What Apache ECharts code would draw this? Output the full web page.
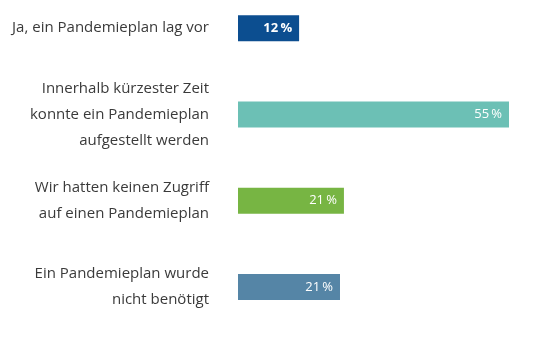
<!DOCTYPE html>
<html><head><meta charset="utf-8">
<script src="https://cdn.jsdelivr.net/npm/echarts@6/dist/echarts.min.js"></script>
<style>html,body{margin:0;padding:0;background:#fff}#c{width:553px;height:359px}</style>
</head><body><div id="c"></div>
<script>
const categories = [
  "Ja, ein Pandemieplan lag vor",
  "Innerhalb kürzester Zeit\nkonnte ein Pandemieplan\naufgestellt werden",
  "Wir hatten keinen Zugriff\nauf einen Pandemieplan",
  "Ein Pandemieplan wurde\nnicht benötigt"
];
const values = [12.4, 55, 21.5, 20.7];
const valueLabels = ["12\u2009%", "55\u2009%", "21\u2009%", "21\u2009%"];
const colors = ["#0c4e90", "#6cc0b5", "#77b543", "#5585a6"];

const chart = echarts.init(document.getElementById('c'));
chart.setOption({
  animation: false,
  grid: {left: 238, top: -15, height: 345, width: 271, outerBoundsMode: 'none', containLabel: false},
  xAxis: {type: 'value', min: 0, max: 55, show: false},
  yAxis: {
    type: 'category', inverse: true, data: categories,
    axisLine: {show: false}, axisTick: {show: false},
    axisLabel: {margin: 29, color: '#3a3a3a', fontSize: 15, lineHeight: 26, fontFamily: 'Open Sans', align: 'right'}
  },
  series: [{
    type: 'bar', barWidth: 26,
    data: values.map((v, i) => ({
      value: v,
      itemStyle: {color: colors[i]},
      label: {fontWeight: i === 0 ? 'bold' : 'normal'}
    })),
    label: {
      show: true, position: 'insideRight', distance: 7,
      color: '#fff', fontSize: 13, fontFamily: 'Open Sans',
      formatter: p => valueLabels[p.dataIndex]
    }
  }]
});
</script></body></html>
